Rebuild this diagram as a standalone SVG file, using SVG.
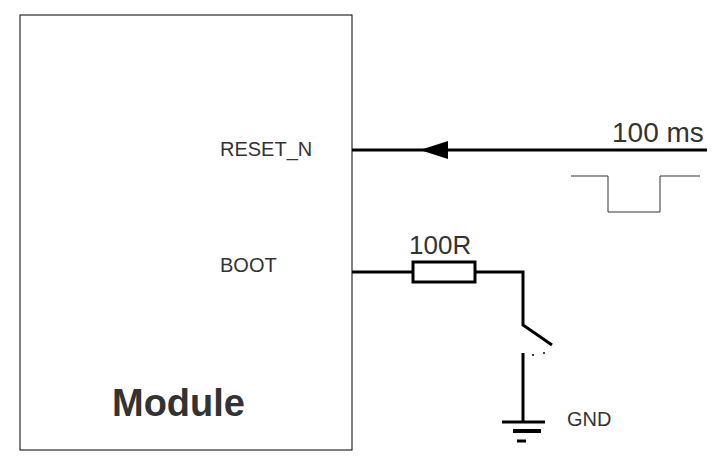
<svg xmlns="http://www.w3.org/2000/svg" width="725" height="471" viewBox="0 0 725 471">
<style>
.w{stroke:#000;stroke-width:3;fill:none}
.t{font-family:"Liberation Sans",Arial,sans-serif;fill:#333}
</style>
<rect width="725" height="471" fill="#fff"/>
<g id="module">
<rect x="20" y="15" width="332" height="435" fill="#fff" stroke="#000" stroke-width="1"/>
<text class="t" x="220" y="156" font-size="20">RESET_N</text>
<text class="t" x="220" y="272" font-size="20">BOOT</text>
<text class="t" x="112" y="416" font-size="38" font-weight="bold">Module</text>
</g>
<g id="connectors">
<path class="w" d="M352 150H707"/>
<polygon points="420,150 448,141 448,159" fill="#000"/>
<path d="M571 176H608V212H660V176H700" stroke="#333" stroke-width="1" fill="none"/>
<path class="w" d="M352 272H413M475 272H523V325L552 345"/>
</g>
<g id="pulse-label"><text class="t" x="612" y="142" font-size="28">100 ms</text></g>
<g id="resistor">
<rect class="w" x="413" y="262" width="62" height="20" fill="#fff"/>
<text class="t" x="409" y="254" font-size="26">100R</text>
</g>
<g id="switch">
<circle cx="533" cy="355" r="1" fill="#000"/><circle cx="544" cy="353" r="1" fill="#000"/>
<path class="w" d="M523 353V422"/>
</g>
<g id="gnd">
<path d="M502 422H545" stroke="#000" stroke-width="3"/>
<path d="M513 431H541" stroke="#000" stroke-width="4"/>
<path d="M517 441H526" stroke="#000" stroke-width="3"/>
<text class="t" x="567" y="426" font-size="20">GND</text>
</g>
</svg>
